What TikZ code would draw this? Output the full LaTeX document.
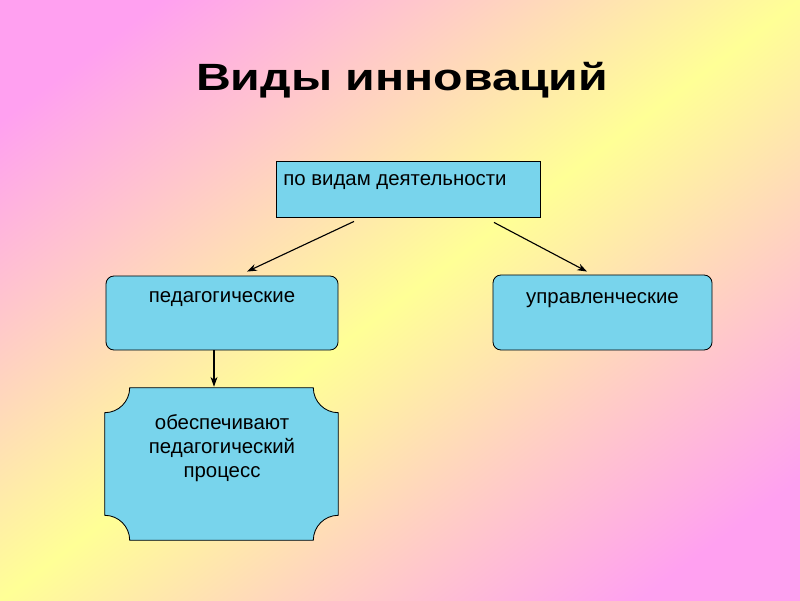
\documentclass[tikz,border=0pt]{standalone}
\usepackage{fontspec}
\setmainfont{Liberation Sans}
\newfontfamily\titlefont[FakeStretch=1.27]{Liberation Sans}
\usetikzlibrary{arrows.meta,calc}

\definecolor{bgpink}{RGB}{255,160,240}
\definecolor{bgyellow}{RGB}{255,255,150}
\definecolor{boxblue}{RGB}{120,212,236}

% Заливка фона: розовый - жёлтый - розовый
\pgfdeclareverticalshading{slidebg}{100bp}{color(0bp)=(bgpink); color(22bp)=(bgpink); color(50bp)=(bgyellow); color(78bp)=(bgpink); color(100bp)=(bgpink)}

\begin{document}
\begin{tikzpicture}[x=0.025cm, y=0.025cm,
    box/.style={draw=black, line width=0.6pt, fill=boxblue},
    txt/.style={font=\fontsize{14.5}{16.9}\selectfont, inner sep=0pt},
    arr/.style={-{Stealth[length=7pt, width=5pt]}, line width=0.8pt}]

    % Фон слайда (диагональная заливка)
    \shade[shading=slidebg, shading angle=36.87] (0,0) rectangle (800,600);
    \useasboundingbox (0,0) rectangle (800,600);

    % Заголовок
    \node[font=\titlefont\fontsize{27}{32}\selectfont\bfseries, anchor=base] (title) at (402,509) {Виды инноваций};

    % Верхний блок
    \node[box, minimum width=6.6cm, minimum height=1.4cm] (top) at (408,411) {};
    \node[txt, anchor=base west] (topT) at (283,414) {по видам деятельности};

    % Блоки второго уровня (скруглённые)
    \node[box, rounded corners=0.2cm, minimum width=5.8cm, minimum height=1.85cm] (ped) at (222,287) {};
    \node[txt, anchor=base] (pedT) at (222,298) {педагогические};

    \node[box, rounded corners=0.2cm, minimum width=5.475cm, minimum height=1.875cm] (upr) at (602.5,287.5) {};
    \node[txt, anchor=base] (uprT) at (602.5,297) {управленческие};

    % Нижний блок с вогнутыми углами
    \def\Rc{25}
    \node[minimum width=5.825cm, minimum height=3.8cm, inner sep=0pt] (proc) at (221.5,136) {};
    \draw[box] ($(proc.north west)+(\Rc,0)$) -- ($(proc.north east)+(-\Rc,0)$)
        arc[start angle=180, end angle=270, radius=\Rc]
        -- ($(proc.south east)+(0,\Rc)$)
        arc[start angle=90, end angle=180, radius=\Rc]
        -- ($(proc.south west)+(\Rc,0)$)
        arc[start angle=0, end angle=90, radius=\Rc]
        -- ($(proc.north west)+(0,-\Rc)$)
        arc[start angle=270, end angle=360, radius=\Rc] -- cycle;
    \node[txt, align=center] (procT) at (222,152) {обеспечивают\\педагогический\\процесс};

    % Стрелки
    \draw[arr] ($(top.south)+(-54,-4)$) -- ($(ped.north)+(25,4)$);
    \draw[arr] ($(top.south)+(86,-5)$) -- ($(upr.north)+(-15.5,3)$);
    \draw[arr] ($(ped.south)+(-8,0)$) -- ($(proc.north)+(-7.5,1)$);

\end{tikzpicture}
\end{document}
